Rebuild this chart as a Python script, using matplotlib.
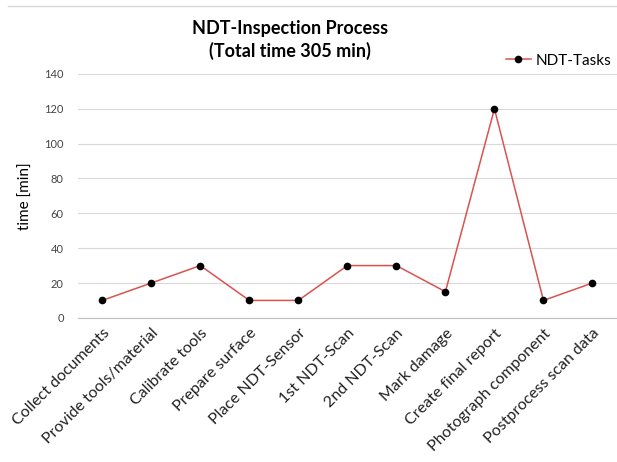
import matplotlib.pyplot as plt
from matplotlib.lines import Line2D

plt.rcParams['font.family'] = ['Lato', 'DejaVu Sans']

# task names and durations (min)
tasks = ['Collect documents', 'Provide tools/material', 'Calibrate tools',
         'Prepare surface', 'Place NDT-Sensor', '1st NDT-Scan', '2nd NDT-Scan',
         'Mark damage', 'Create final report', 'Photograph component',
         'Postprocess scan data']
minutes = [10, 20, 30, 10, 10, 30, 30, 15, 120, 10, 20]
yticks = [0, 20, 40, 60, 80, 100, 120, 140]

fig = plt.figure(figsize=(6.17, 4.62), dpi=100)
ax = fig.add_axes([0.126, 0.312, 0.874, 0.528])

x = list(range(len(tasks)))
ax.plot(x, minutes, color='#d9534f', lw=1.1, marker='o', ms=4.5,
        mfc='black', mec='black', label='NDT-Tasks')

ax.set_xlim(-0.5, len(tasks) - 0.5)
ax.set_ylim(0, 140)
ax.set_yticks(yticks)
ax.set_xticks(x)
ax.set_xticklabels(tasks, rotation=45, ha='right', rotation_mode='anchor',
                   fontsize=11.5, color='#222222')
ax.tick_params(axis='y', labelsize=8, colors='#444444', length=0, pad=10)
ax.tick_params(axis='x', length=0, pad=6)
ax.grid(axis='y', color='#d9d9d9', lw=0.8)
ax.set_axisbelow(True)
for s in ['top', 'right', 'left']:
    ax.spines[s].set_visible(False)
ax.spines['bottom'].set_color('#bfbfbf')
ax.set_ylabel('time [min]', fontsize=11, labelpad=8)

fig.text(0.47, 0.914, 'NDT-Inspection Process\n(Total time 305 min)',
         ha='center', va='center', fontsize=13, fontweight='bold',
         linespacing=1.35)
ax.legend(loc='lower right', bbox_to_anchor=(1.0, 1.0), frameon=False,
          fontsize=11, handlelength=1.6, handletextpad=0.3, borderaxespad=0)

fig.add_artist(Line2D([0.013, 1.0], [0.987, 0.987], color='#d9d9d9', lw=1))

fig.savefig('out.png', dpi=100)
